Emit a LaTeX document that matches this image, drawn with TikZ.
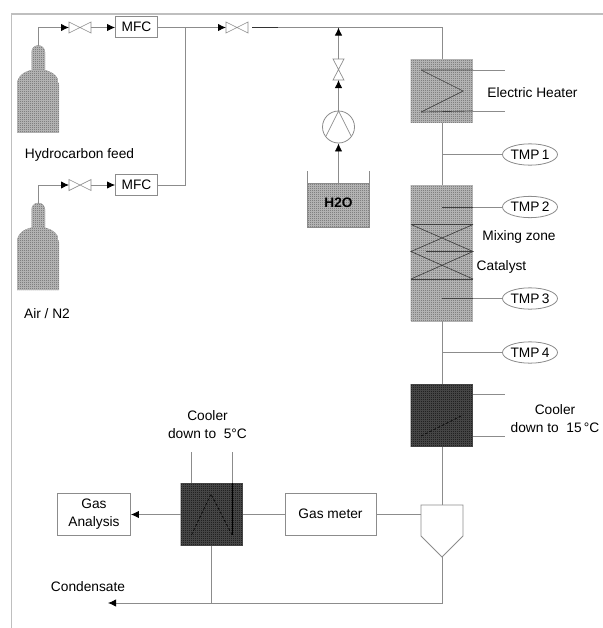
\documentclass[tikz,border=0pt]{standalone}
\usepackage{fontspec}
\setmainfont{Liberation Sans}
\usetikzlibrary{arrows.meta,shapes.geometric}
\definecolor{ln}{gray}{0.55}
\definecolor{frm}{gray}{0.75}
\definecolor{med}{gray}{0.5}
\definecolor{medl}{gray}{0.7}
\definecolor{drk}{gray}{0.13}
\definecolor{drkl}{gray}{0.27}
\tikzset{
  x=0.75pt,y=-0.75pt,
  pipe/.style={draw=ln,line width=0.6pt},
  flow/.style={pipe,-{Latex[black,length=6pt,width=5.5pt]}},
  boxn/.style={draw=ln,fill=white,line width=0.6pt,inner sep=0pt,align=center},
  tmpn/.style={draw=ln,fill=white,line width=0.6pt,ellipse,minimum width=39pt,minimum height=16pt,inner sep=0pt},
  lab/.style={inner sep=0pt,align=center,font=\fontsize{10.3pt}{13.5pt}\selectfont},
  gridm/.style={draw=medl,line width=0.3pt},
  gridd/.style={draw=drkl,line width=0.3pt},
  coil/.style={draw=black!75,line width=0.5pt},
  faint/.style={draw=black,line width=0.45pt,dash pattern=on 2pt off 1.5pt},
}
\newcommand{\hatchbox}[6]{% x1,y1,x2,y2,fill,grid style
  \begin{scope}
  \clip (#1,#2) rectangle (#3,#4);
  \fill[#5] (#1,#2) rectangle (#3,#4);
  \foreach \k in {0,2,...,140}{
    \draw[#6] ({#1+\k},#2) -- ({#1+\k},#4);
    \draw[#6] (#1,{#2+\k}) -- (#3,{#2+\k});
  }
  \end{scope}}
\newcommand{\bottle}[1]{%
  \begin{scope}[yshift=-#1*0.75pt]
  \begin{scope}
  \clip (31.5,70) -- (31.5,52) arc[start angle=180,end angle=0,x radius=6.75,y radius=-6.75] -- (45,70) -- cycle;
  \fill[med] (30,44) rectangle (47,71);
  \foreach \k in {0,2,...,30}{\draw[gridm] (30,{44+\k}) -- (47,{44+\k});\draw[gridm] ({30+\k},44) -- ({30+\k},71);}
  \end{scope}
  \begin{scope}
  \clip (17,132.5) -- (17,85) .. controls (17,75) and (26,69.5) .. (38,69.5) .. controls (50,69.5) and (59,75) .. (59,85) -- (59,132.5) -- cycle;
  \fill[med] (17,68) rectangle (59,133);
  \foreach \k in {0,2,...,66}{\draw[gridm] (17,{68+\k}) -- (59,{68+\k});}
  \foreach \k in {0,2,...,42}{\draw[gridm] ({17+\k},68) -- ({17+\k},133);}
  \end{scope}
  \end{scope}}
\newcommand{\hvalve}[2]{\draw[draw=ln,line width=0.5pt] (#1,{#2-5.5}) -- ({#1+22},{#2+5.5}) -- ({#1+22},{#2-5.5}) -- (#1,{#2+5.5}) -- cycle;}
\begin{document}
\begin{tikzpicture}
\useasboundingbox (0,0) rectangle (603,628);
\fill[white] (0,0) rectangle (603,628);
% frame
\draw[frm,line width=0.9pt] (603,14) -- (11.5,14) -- (11.5,628);
% bottles
\bottle{0}
\bottle{157.5}
% labelled boxes
\node[boxn,minimum width=31.5pt,minimum height=15.75pt] (mfca) at (136.5,27) {\fontsize{10.3pt}{12pt}\selectfont MFC};
\node[boxn,minimum width=31.5pt,minimum height=15.75pt] (mfcb) at (136.5,184.5) {\fontsize{10.3pt}{12pt}\selectfont MFC};
\coordinate (b1) at (38,46);
\coordinate (b2) at (38,203.5);
\coordinate (v1) at (69,27.5);
\coordinate (v2) at (69,185);
\coordinate (v3) at (226,27.5);
\coordinate (j) at (185,27.5);
\coordinate (topr) at (442,27.5);
\draw[flow] (b1) -- (38,27.5) -- (v1);
\hvalve{69}{27.5}
\draw[flow] (91,27.5) -- (mfca.west |- 0,27.5);
\draw[flow] (b2) -- (38,185) -- (v2);
\hvalve{69}{185}
\draw[flow] (91,185) -- (mfcb.west |- 0,185);
\draw[pipe] (mfcb.east |- 0,185) -- (185,185) -- (j);
\draw[flow] (mfca.east |- 0,27.5) -- (v3);
\hvalve{226}{27.5}
\draw[pipe] (252,27.5) -- (topr) -- (442,59);
\draw[black!80,line width=0.5pt] (252,27.5) -- (278,27.5);
% water feed
\hatchbox{307}{183}{369.5}{227}{med}{gridm}
\draw[pipe] (307,171) -- (307,227) -- (369.5,227) -- (369.5,171);
\draw[pipe] (307,183) -- (369.5,183);
\node[lab,font=\fontsize{10.3pt}{12pt}\selectfont\bfseries] (h2o) at (338.5,203) {H2O};
\node[circle,draw=ln,line width=0.6pt,minimum size=24pt,inner sep=0pt] (pump) at (338.5,127) {};
\draw[draw=ln,line width=0.5pt] (326,136) -- (338.5,111) -- (351,136);
\draw[flow] (338.5,183) -- (pump.south);
\draw[flow] (pump.north) -- (338.5,80);
\draw[draw=ln,line width=0.5pt] (333,59) -- (344,59) -- (333,80) -- (344,80) -- cycle;
\draw[flow] (338.5,59) -- (338.5,27.5);
% heater
\hatchbox{410.5}{59}{473}{122.5}{med}{gridm}
\draw[coil] (421,70) -- (463,91) -- (421,112);
\draw[coil] (421,70) -- (473,70) (421,112) -- (473,111);
\draw[pipe] (473,70) -- (505,70) (473,111) -- (505,111);
\node[lab] (eh) at (532.5,93) {Electric Heater};
\draw[pipe] (442,122.5) -- (442,185);
\node[tmpn] (t1) at (530,154.5) {\fontsize{10.3pt}{12pt}\selectfont TMP\,1};
\draw[pipe] (442,154.5) -- (t1.west);
% reactor
\hatchbox{410.5}{185}{473}{321}{med}{gridm}
\draw[coil] (410.5,224.5) -- (473,224.5) (410.5,279) -- (473,279) (426,251.5) -- (473,251.5);
\draw[coil] (411,224.5) -- (473,251.5) -- (411,279);
\draw[coil] (473,224.5) -- (411,251.5) -- (473,279);
\node[tmpn] (t2) at (530,207) {\fontsize{10.3pt}{12pt}\selectfont TMP\,2};
\draw[pipe] (473,207) -- (t2.west);
\draw[coil] (442,207) -- (473,207);
\node[tmpn] (t3) at (530,298.5) {\fontsize{10.3pt}{12pt}\selectfont TMP\,3};
\draw[pipe] (473,298.5) -- (t3.west);
\draw[coil] (442,298.5) -- (473,298.5);
\node[lab] (mz) at (519,237) {Mixing zone};
\node[lab] (cat) at (501.5,267) {Catalyst};
\draw[pipe] (442,321) -- (442,384);
\node[tmpn] (t4) at (530,352.5) {\fontsize{10.3pt}{12pt}\selectfont TMP\,4};
\draw[pipe] (442,352.5) -- (t4.west);
% cooler 15
\hatchbox{410.5}{384}{473}{447}{drk}{gridd}
\draw[pipe] (473,394.5) -- (505,394.5) (473,436) -- (505,436);
\draw[faint] (421,436) -- (463,415);
\node[lab] (c15) at (555,418.5) {Cooler\\down to\ \ 15\,°C};
\draw[pipe] (442,447) -- (442,505);
% separator
\draw[pipe] (421,505) -- (463,505) -- (463,536) -- (442,557) -- (421,536) -- cycle;
\node[boxn,minimum width=68.25pt,minimum height=31.5pt] (gm) at (330.5,514) {\fontsize{10.3pt}{12pt}\selectfont Gas meter};
\draw[pipe] (421,514.5) -- (gm.east |- 0,514.5);
% cooler 5
\hatchbox{180.5}{483}{243}{546}{drk}{gridd}
\draw[faint] (191.5,535) -- (211,494) -- (232,535);
\draw[pipe] (243,514) -- (gm.west |- 0,514);
\draw[pipe] (191.5,452) -- (191.5,483);
\draw[pipe] (232,452) -- (232,483);
\draw[black,line width=0.6pt] (232,483) -- (232,535);
\node[lab] (c5) at (207.5,425) {Cooler\\down to\ \ 5°C};
\node[boxn,minimum width=54.75pt,minimum height=31.5pt,font=\fontsize{10.3pt}{13.5pt}\selectfont] (ga) at (94,514) {Gas\\Analysis};
\draw[flow] (180.5,514.5) -- (ga.east |- 0,514.5);
% condensate
\coordinate (cend) at (108,603);
\draw[flow] (442,557) -- (442,603) -- (cend);
\draw[pipe] (211.5,546) -- (211.5,603);
\node[lab] (cond) at (88,586.5) {Condensate};
\node[lab] (hf) at (79.5,155) {Hydrocarbon feed};
\node[lab] (air) at (47,314) {Air / N2};
\end{tikzpicture}
\end{document}
